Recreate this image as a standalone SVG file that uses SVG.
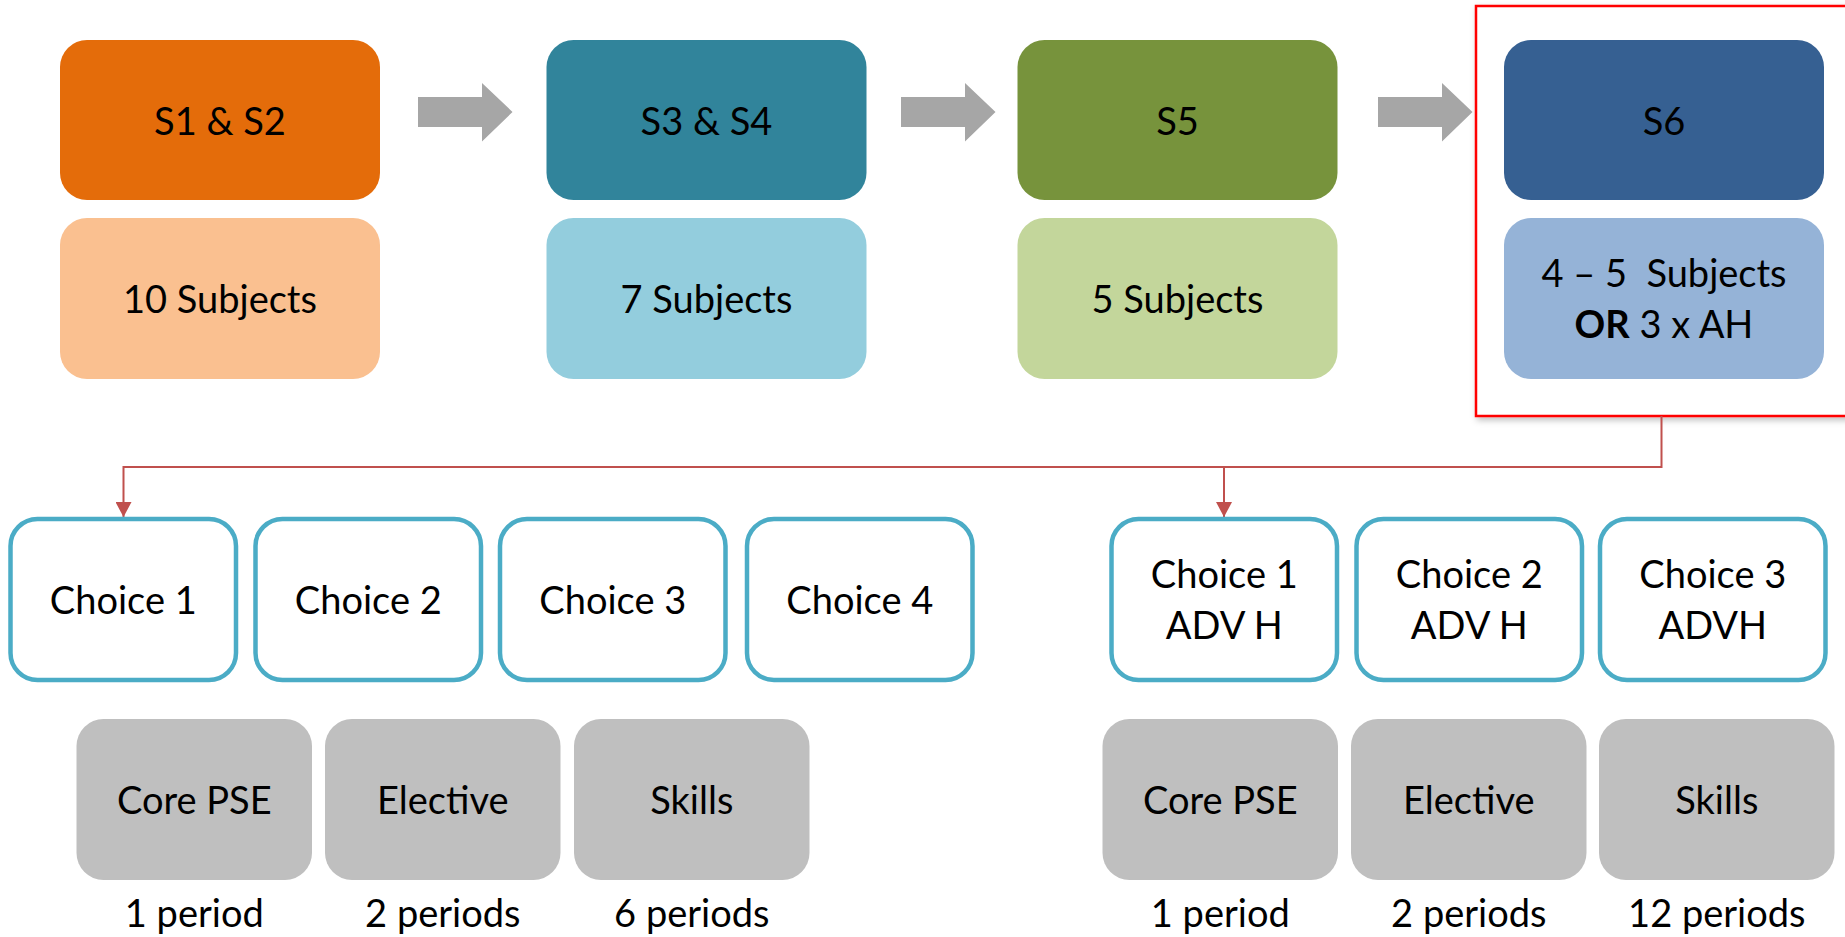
<svg xmlns="http://www.w3.org/2000/svg" width="1845" height="937" viewBox="0 0 1845 937">
<defs>
<style>
text{font-family:Lato,"Open Sans","Liberation Sans",sans-serif;font-size:38px;fill:#000;text-anchor:middle}
.b{font-weight:bold}
.choice{fill:#fff;stroke:#4BACC6;stroke-width:4.5}
.grey{fill:#BFBFBF}
.garrow{fill:#A6A6A6}
.conn{fill:none;stroke:#C0504D;stroke-width:2}
</style>
<marker id="ah" markerUnits="userSpaceOnUse" markerWidth="16" markerHeight="15" refX="7.5" refY="14" orient="0" viewBox="0 0 15 14">
<path d="M0 0 L15 0 L7.5 14 Z" fill="#C0504D"/>
</marker>
<filter id="sh" x="-5%" y="-5%" width="115%" height="115%">
<feDropShadow dx="2" dy="3" stdDeviation="3" flood-color="#000" flood-opacity="0.25"/>
</filter>
</defs>
<rect width="1845" height="937" fill="#fff"/>

<g id="s6-frame">
<rect x="1476" y="6" width="375" height="410" fill="#fff" stroke="#FF0000" stroke-width="2.5" filter="url(#sh)"/>
</g>

<g id="arrows-grey">
<path class="garrow" d="M418 97 H482 V83 L512.5 112 L482 141.5 V127 H418 Z"/>
<path class="garrow" d="M901 97 H965 V83 L995.5 112 L965 141.5 V127 H901 Z"/>
<path class="garrow" d="M1378 97 H1442 V83 L1472.5 112 L1442 141.5 V127 H1378 Z"/>
</g>

<g id="s1s2">
<rect x="60" y="40" width="320" height="160" rx="27" fill="#E46C0A"/>
<text x="220" y="135">S1 &amp; S2</text>
</g>
<g id="s1s2-subjects">
<rect x="60" y="218" width="320" height="161" rx="27" fill="#FAC090"/>
<text x="220" y="313">10 Subjects</text>
</g>
<g id="s3s4">
<rect x="546.5" y="40" width="320" height="160" rx="27" fill="#31849B"/>
<text x="706.5" y="135">S3 &amp; S4</text>
</g>
<g id="s3s4-subjects">
<rect x="546.5" y="218" width="320" height="161" rx="27" fill="#93CDDD"/>
<text x="706.5" y="313">7 Subjects</text>
</g>
<g id="s5">
<rect x="1017.5" y="40" width="320" height="160" rx="27" fill="#77933C"/>
<text x="1177.5" y="135">S5</text>
</g>
<g id="s5-subjects">
<rect x="1017.5" y="218" width="320" height="161" rx="27" fill="#C3D69B"/>
<text x="1177.5" y="313">5 Subjects</text>
</g>
<g id="s6">
<rect x="1504" y="40" width="320" height="160" rx="27" fill="#366092"/>
<text x="1664" y="135">S6</text>
</g>
<g id="s6-subjects">
<rect x="1504" y="218" width="320" height="161" rx="27" fill="#95B3D7"/>
<text x="1664" y="287" xml:space="preserve">4 – 5  Subjects</text>
<text x="1664" y="338"><tspan class="b">OR</tspan> 3 x AH</text>
</g>

<g id="connectors">
<path class="conn" d="M1661.5 416 V467 H123.5 V517" marker-end="url(#ah)"/>
<path class="conn" d="M1224 467 V517" marker-end="url(#ah)"/>
</g>

<g id="choice1">
<rect class="choice" x="10.5" y="519" width="225.5" height="161" rx="27"/>
<text x="123.3" y="614">Choice 1</text>
</g>
<g id="choice2">
<rect class="choice" x="255.5" y="519" width="225.5" height="161" rx="27"/>
<text x="368.3" y="614">Choice 2</text>
</g>
<g id="choice3">
<rect class="choice" x="500" y="519" width="225.5" height="161" rx="27"/>
<text x="612.8" y="614">Choice 3</text>
</g>
<g id="choice4">
<rect class="choice" x="747" y="519" width="225.5" height="161" rx="27"/>
<text x="859.8" y="614">Choice 4</text>
</g>

<g id="choice1-advh">
<rect class="choice" x="1111.5" y="519" width="225.5" height="161" rx="27"/>
<text x="1224.3" y="588">Choice 1</text>
<text x="1224.3" y="639">ADV H</text>
</g>
<g id="choice2-advh">
<rect class="choice" x="1356.5" y="519" width="225.5" height="161" rx="27"/>
<text x="1469.3" y="588">Choice 2</text>
<text x="1469.3" y="639">ADV H</text>
</g>
<g id="choice3-advh">
<rect class="choice" x="1600" y="519" width="225.5" height="161" rx="27"/>
<text x="1712.8" y="588">Choice 3</text>
<text x="1712.8" y="639">ADVH</text>
</g>

<g id="core-pse-1">
<rect class="grey" x="76.5" y="719" width="235.5" height="161" rx="27"/>
<text x="194.3" y="814">Core PSE</text>
<text x="194.3" y="927">1 period</text>
</g>
<g id="elective-1">
<rect class="grey" x="325" y="719" width="235.5" height="161" rx="27"/>
<text x="442.8" y="814">Elective</text>
<text x="442.8" y="927">2 periods</text>
</g>
<g id="skills-1">
<rect class="grey" x="574" y="719" width="235.5" height="161" rx="27"/>
<text x="691.8" y="814">Skills</text>
<text x="691.8" y="927">6 periods</text>
</g>

<g id="core-pse-2">
<rect class="grey" x="1102.5" y="719" width="235.5" height="161" rx="27"/>
<text x="1220.3" y="814">Core PSE</text>
<text x="1220.3" y="927">1 period</text>
</g>
<g id="elective-2">
<rect class="grey" x="1351" y="719" width="235.5" height="161" rx="27"/>
<text x="1468.8" y="814">Elective</text>
<text x="1468.8" y="927">2 periods</text>
</g>
<g id="skills-2">
<rect class="grey" x="1599" y="719" width="235.5" height="161" rx="27"/>
<text x="1716.8" y="814">Skills</text>
<text x="1716.8" y="927">12 periods</text>
</g>
</svg>
